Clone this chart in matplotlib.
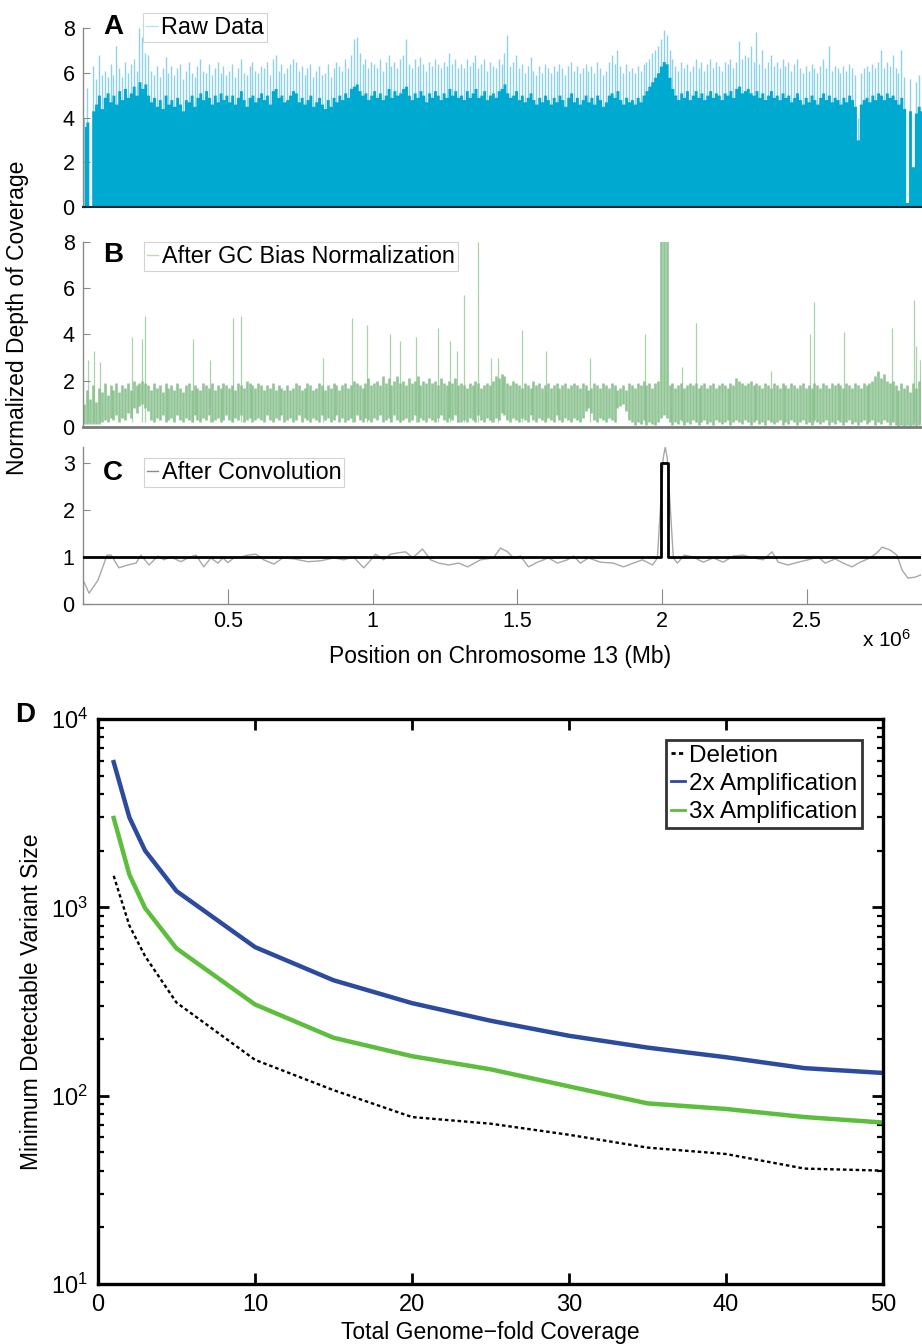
import math

import matplotlib
matplotlib.use("Agg")
import matplotlib.pyplot as plt
from matplotlib import font_manager
from matplotlib.lines import Line2D
from matplotlib.ticker import FixedLocator, FuncFormatter, LogLocator, NullFormatter

_names = {f.name for f in font_manager.fontManager.ttflist}
NARROW = "Liberation Sans Narrow" if "Liberation Sans Narrow" in _names else "Liberation Sans"
SANS = "Liberation Sans"
plt.rcParams["font.family"] = [NARROW, "DejaVu Sans"]
plt.rcParams["mathtext.default"] = "regular"

# ---------------- data: chromosome 13 coverage (10 kb bins) ----------------
BIN = 10000
CHR_LEN = 2.893e6

raw_depth = [
    3.6, 3.8, 0.0, 4.3, 4.6, 5.0, 4.4, 4.9, 5.1, 4.7,
    5.0, 4.6, 5.2, 4.8, 5.3, 4.9, 5.1, 5.4, 5.0, 5.6,
    5.3, 5.5, 5.0, 4.7, 4.9, 4.5, 4.8, 4.4, 5.0, 4.6,
    4.8, 4.5, 4.9, 4.6, 4.3, 4.8, 4.7, 5.0, 4.5, 4.9,
    5.1, 4.8, 5.2, 4.9, 4.6, 5.0, 4.7, 5.1, 4.8, 5.0,
    4.7, 5.0, 4.6, 4.9, 5.2, 4.8, 4.5, 4.9, 5.0, 4.7,
    4.9, 5.1, 4.8, 5.0, 4.6, 5.2, 5.3, 4.9, 5.0, 4.7,
    4.8, 5.0, 5.2, 5.1, 4.7, 4.9, 4.6, 4.8, 5.0, 4.5,
    4.7, 4.9, 4.6, 4.4, 4.8, 4.5, 4.9, 4.7, 5.0, 4.8,
    5.1, 4.9, 5.3, 5.4, 5.5, 5.2, 5.0, 5.1, 4.8, 5.0,
    5.2, 4.9, 5.1, 4.8, 5.0, 5.3, 4.9, 5.2, 5.0, 5.1,
    5.3, 5.4, 5.0, 4.8, 5.1, 4.9, 5.2, 5.0, 4.7, 5.1,
    4.9, 5.2, 5.0, 4.8, 5.1, 4.9, 5.3, 5.0, 5.2, 4.9,
    5.0, 4.8, 5.2, 4.9, 5.1, 5.3, 4.9, 5.0, 5.2, 4.8,
    5.0, 5.1, 4.9, 5.2, 5.3, 5.5, 5.1, 4.9, 5.0, 5.2,
    4.8, 5.0, 4.7, 4.9, 5.1, 4.8, 4.6, 4.9, 4.7, 5.0,
    4.8, 4.6, 4.9, 4.7, 5.0, 4.8, 4.5, 4.9, 5.1, 4.7,
    4.9, 4.6, 4.8, 5.0, 4.7, 4.9, 4.6, 5.0, 4.8, 4.5,
    4.7, 5.0, 5.1, 4.9, 5.2, 4.8, 4.6, 4.9, 4.7, 4.8,
    4.6, 4.9, 4.7, 5.0, 5.2, 5.4, 5.6, 5.8, 6.0, 6.3,
    6.5, 6.4, 5.8, 5.3, 5.0, 4.8, 5.1, 4.9, 5.2, 4.8,
    5.0, 5.2, 4.9, 5.1, 4.8, 5.0, 5.2, 4.9, 5.1, 5.0,
    4.8, 5.1, 5.0, 5.2, 4.9, 5.3, 5.4, 5.1, 5.2, 5.3,
    5.1, 5.0, 5.2, 4.9, 5.1, 4.8, 5.0, 5.2, 4.9, 5.0,
    4.8, 5.1, 4.9, 5.0, 4.7, 4.9, 5.1, 4.8, 4.6, 4.9,
    4.7, 5.0, 4.8, 4.6, 4.9, 5.1, 4.8, 5.0, 4.7, 4.9,
    4.8, 4.6, 4.9, 4.7, 5.0, 4.8, 4.5, 3.0, 4.6, 4.8,
    4.9, 4.7, 5.0, 4.8, 5.1, 5.0, 4.8, 5.1, 4.9, 5.0,
    4.8, 4.6, 4.9, 4.4, 0.2, 4.3, 1.8, 4.2, 4.5, 4.3,
]

raw_peak = [
    4.0, 5.3, 0.0, 6.3, 5.7, 6.8, 5.9, 6.1, 5.8, 6.4,
    5.9, 7.2, 6.2, 5.8, 6.5, 6.0, 6.4, 6.6, 6.1, 8.0,
    7.6, 6.9, 6.8, 6.1, 5.9, 6.3, 5.8, 6.2, 6.7, 6.0,
    6.3, 5.9, 6.2, 6.4, 5.7, 6.1, 6.5, 6.0, 5.8, 6.3,
    6.6, 6.1, 6.0, 6.4, 5.9, 6.2, 6.5, 6.0, 6.3, 5.9,
    6.1, 6.4, 5.8, 6.2, 6.6, 6.0, 5.9, 6.3, 6.5, 6.1,
    6.0, 6.3, 6.2, 6.5, 5.9, 6.6, 6.8, 6.1, 6.4, 6.0,
    6.2, 6.4, 6.6, 6.5, 6.1, 6.3, 5.9, 6.2, 6.4, 5.8,
    6.1, 6.3, 5.9, 6.0, 6.4, 5.8, 6.2, 6.5, 6.3, 6.1,
    6.6, 6.2, 6.8, 7.5, 7.6, 6.9, 6.4, 6.6, 6.2, 6.5,
    6.4, 6.2, 6.6, 6.1, 6.5, 6.8, 6.3, 6.5, 6.2, 6.6,
    6.8, 7.5, 6.4, 6.2, 6.6, 6.3, 6.7, 6.4, 6.1, 6.5,
    6.3, 6.6, 6.4, 6.2, 6.5, 6.3, 6.9, 6.4, 6.6, 6.2,
    6.4, 6.2, 6.6, 6.3, 6.5, 6.8, 6.2, 6.4, 6.6, 6.1,
    6.5, 6.3, 6.2, 6.6, 6.4, 6.9, 7.7, 6.3, 6.5, 6.8,
    6.2, 6.4, 6.0, 6.3, 6.7, 6.1, 5.9, 6.3, 6.0, 6.4,
    6.2, 6.0, 6.3, 6.1, 6.4, 6.2, 5.9, 6.3, 6.5, 6.1,
    6.3, 6.0, 6.2, 6.4, 6.1, 6.3, 6.0, 6.5, 6.2, 5.9,
    6.1, 6.5, 6.8, 6.4, 7.0, 6.3, 6.0, 6.4, 6.1, 6.2,
    6.0, 6.3, 6.1, 6.4, 6.5, 6.6, 6.9, 7.0, 7.2, 7.5,
    7.9, 7.7, 7.0, 6.6, 6.3, 6.1, 6.5, 6.2, 6.4, 6.1,
    6.3, 6.6, 6.2, 6.5, 6.1, 6.4, 6.6, 6.2, 6.5, 6.3,
    6.1, 6.5, 6.4, 6.6, 6.2, 6.5, 7.4, 6.6, 6.8, 6.7,
    7.2, 6.5, 7.8, 6.4, 7.0, 6.2, 6.5, 6.8, 6.3, 6.5,
    6.2, 6.6, 6.3, 6.5, 6.1, 6.4, 6.6, 6.2, 6.0, 6.3,
    6.1, 6.4, 6.2, 6.0, 6.3, 6.6, 6.2, 7.2, 6.1, 6.3,
    6.2, 6.0, 6.3, 6.1, 6.4, 6.2, 5.9, 4.0, 6.0, 6.2,
    6.3, 6.1, 6.4, 6.2, 6.5, 7.0, 6.2, 6.5, 6.3, 6.8,
    6.2, 6.0, 7.0, 5.8, 0.2, 5.7, 1.8, 5.6, 5.9, 5.7,
]

gc_low = [
    0.15, 0.15, 0.15, 0.15, 0.15, 0.15, 0.2, 0.3, 0.2, 0.4,
    0.3, 0.5, 0.2, 0.4, 0.3, 0.6, 0.4, 0.8, 0.6, 0.9,
    1.0, 0.8, 0.7, 0.3, 0.2, 0.4, 0.3, 0.5, 0.2, 0.3,
    0.4, 0.2, 0.5, 0.3, 0.2, 0.4, 0.3, 0.2, 0.5, 0.3,
    0.2, 0.4, 0.3, 0.5, 0.2, 0.3, 0.4, 0.2, 0.3, 0.5,
    0.3, 0.2, 0.4, 0.3, 0.5, 0.2, 0.3, 0.4, 0.2, 0.3,
    0.4, 0.3, 0.2, 0.5, 0.3, 0.2, 0.4, 0.3, 0.5, 0.2,
    0.3, 0.4, 0.2, 0.3, 0.5, 0.2, 0.4, 0.3, 0.2, 0.4,
    0.3, 0.2, 0.5, 0.3, 0.4, 0.2, 0.3, 0.5, 0.2, 0.4,
    0.2, 0.3, 0.4, 0.2, 0.5, 0.3, 0.2, 0.4, 0.3, 0.2,
    0.4, 0.3, 0.5, 0.2, 0.3, 0.4, 0.2, 0.5, 0.3, 0.2,
    0.3, 0.4, 0.2, 0.3, 0.5, 0.2, 0.4, 0.3, 0.2, 0.4,
    0.3, 0.2, 0.4, 0.5, 0.3, 0.2, 0.4, 0.3, 0.5, 0.2,
    0.2, 0.3, 0.2, 0.4, 0.3, 0.2, 0.5, 0.3, 0.2, 0.4,
    0.3, 0.2, 0.4, 0.3, 0.6, 0.5, 0.3, 0.2, 0.4, 0.3,
    0.2, 0.4, 0.3, 0.2, 0.5, 0.3, 0.2, 0.4, 0.3, 0.2,
    0.4, 0.3, 0.2, 0.5, 0.3, 0.2, 0.4, 0.3, 0.2, 0.4,
    0.3, 0.2, 0.4, 0.7, 0.8, 0.6, 0.3, 0.2, 0.4, 0.3,
    0.2, 0.4, 0.3, 0.2, 0.8, 0.9, 1.0, 0.7, 0.3, 0.2,
    0.1, 0.2, 0.15, 0.3, 0.1, 0.2, 0.15, 0.1, 0.2, 0.4,
    0.5, 0.4, 0.2, 0.1, 0.2, 0.15, 0.3, 0.1, 0.2, 0.15,
    0.3, 0.2, 0.1, 0.2, 0.3, 0.15, 0.2, 0.1, 0.3, 0.2,
    0.15, 0.2, 0.3, 0.1, 0.2, 0.3, 0.2, 0.15, 0.3, 0.2,
    0.1, 0.2, 0.3, 0.15, 0.2, 0.1, 0.3, 0.2, 0.15, 0.2,
    0.3, 0.1, 0.2, 0.15, 0.3, 0.2, 0.1, 0.2, 0.3, 0.15,
    0.2, 0.1, 0.3, 0.2, 0.15, 0.2, 0.3, 0.1, 0.2, 0.15,
    0.3, 0.2, 0.1, 0.2, 0.3, 0.15, 0.2, 0.1, 0.2, 0.3,
    0.15, 0.2, 0.3, 0.1, 0.2, 0.15, 0.3, 0.2, 0.1, 0.2,
    0.1, 0.05, 0.1, 0.05, 0.1, 0.05, 0.1, 0.05, 0.1, 0.05,
]

gc_high = [
    1.0, 1.6, 1.2, 1.8, 1.1, 1.7, 1.5, 1.9, 1.4, 1.8,
    1.6, 1.9, 1.5, 1.8, 1.7, 1.9, 1.6, 2.0, 1.8, 1.9,
    2.0, 1.9, 1.8, 1.6, 1.9, 1.7, 1.8, 1.5, 1.9, 1.7,
    1.8, 1.6, 1.9, 1.7, 1.5, 1.8, 1.9, 1.6, 1.8, 1.7,
    1.6, 1.9, 1.8, 1.7, 1.9, 1.6, 1.8, 1.7, 1.9, 1.8,
    1.7, 1.8, 1.6, 1.9, 1.8, 1.7, 2.0, 1.9, 1.8, 1.7,
    1.9, 1.8, 1.6, 1.8, 1.7, 1.9, 1.6, 1.8, 1.7, 1.6,
    1.8, 1.6, 1.7, 1.9, 1.8, 1.6, 1.7, 1.9, 1.8, 1.6,
    1.7, 1.9, 1.8, 1.6, 1.8, 1.7, 1.9, 1.8, 1.6, 1.8,
    1.9, 1.7, 1.8, 2.0, 1.9, 1.8, 1.7, 1.9, 2.1, 1.8,
    1.9, 2.0, 1.8, 2.2, 1.9, 2.1, 1.8, 2.0, 2.2, 1.9,
    2.0, 1.8, 2.1, 1.9, 2.0, 2.2, 1.8, 2.0, 1.9, 2.1,
    1.9, 2.0, 1.8, 2.1, 1.9, 1.8, 2.0, 1.9, 2.1, 1.8,
    1.9, 1.8, 1.7, 1.9, 1.8, 2.0, 1.9, 1.7, 1.8, 1.9,
    1.8, 2.0, 2.2, 2.1, 2.3, 2.2, 1.9, 1.8, 2.0, 1.9,
    1.8, 1.7, 1.9, 1.8, 1.7, 2.0, 1.8, 1.9, 1.7, 1.8,
    1.9, 1.7, 1.8, 1.9, 1.7, 1.8, 1.9, 1.7, 1.8, 1.9,
    1.8, 1.7, 1.9, 1.8, 1.6, 1.7, 1.9, 1.8, 1.7, 1.9,
    1.8, 1.7, 1.9, 1.8, 1.6, 1.7, 1.8, 1.6, 1.9, 1.8,
    1.7, 1.9, 1.8, 2.0, 1.8, 1.9, 1.7, 1.9, 2.0, 9.0,
    9.0, 9.0, 1.8, 1.9, 1.7, 1.8, 1.9, 1.7, 1.8, 1.9,
    1.8, 1.9, 1.7, 1.8, 1.9, 1.7, 1.8, 1.9, 1.7, 1.8,
    1.9, 1.8, 1.7, 1.9, 1.8, 2.1, 2.0, 1.9, 1.8, 1.9,
    2.0, 1.8, 1.9, 1.8, 1.7, 1.9, 1.8, 1.7, 1.9, 1.8,
    1.7, 1.9, 1.8, 1.7, 1.9, 1.8, 1.7, 1.8, 1.9, 1.7,
    1.8, 1.7, 1.9, 1.8, 1.7, 1.9, 1.8, 1.7, 1.9, 1.8,
    1.9, 1.8, 1.7, 1.9, 1.8, 1.7, 1.9, 1.8, 1.7, 1.9,
    1.8, 1.9, 2.0, 2.2, 2.4, 2.1, 2.3, 2.0, 1.9, 2.0,
    1.8, 1.6, 1.9, 1.7, 1.8, 1.5, 1.9, 1.7, 2.0, 1.8,
]

# isolated spikes after GC normalisation (position in Mb, depth)
gc_spike_pos = [0.017, 0.038, 0.059, 0.169, 0.203, 0.214, 0.379, 0.438, 0.517, 0.545,
                0.828, 0.928, 0.979, 1.059, 1.093, 1.148, 1.224, 1.266, 1.290, 1.317,
                1.362, 1.407, 1.431, 1.517, 1.597, 1.752, 1.941, 2.069, 2.117, 2.376,
                2.510, 2.524, 2.628, 2.793, 2.869, 2.876, 2.890]
gc_spike_val = [2.9, 3.3, 2.8, 3.9, 3.8, 4.8, 3.8, 2.9, 4.7, 4.8,
                3.0, 4.7, 4.4, 4.0, 3.7, 3.9, 4.3, 3.7, 3.3, 5.7,
                8.0, 3.0, 3.0, 4.2, 3.3, 3.0, 4.0, 2.6, 4.5, 2.4,
                4.0, 5.4, 4.1, 4.3, 5.5, 3.5, 2.9]

# convolved signal (position in Mb, depth)
conv_pos = [0.003, 0.021, 0.052, 0.062, 0.083, 0.097, 0.124, 0.155, 0.183, 0.200,
            0.228, 0.259, 0.279, 0.303, 0.338, 0.362, 0.390, 0.417, 0.441, 0.466,
            0.483, 0.500, 0.521, 0.545, 0.569, 0.597, 0.624, 0.659, 0.690, 0.728,
            0.776, 0.821, 0.866, 0.900, 0.934, 0.969, 1.000, 1.010, 1.038, 1.062,
            1.090, 1.114, 1.138, 1.172, 1.200, 1.228, 1.262, 1.297, 1.328, 1.372,
            1.417, 1.441, 1.466, 1.486, 1.510, 1.538, 1.569, 1.607, 1.638, 1.672,
            1.693, 1.717, 1.745, 1.786, 1.831, 1.866, 1.900, 1.931, 1.966, 1.983,
            1.993, 2.003, 2.010, 2.017, 2.028, 2.038, 2.052, 2.076, 2.107, 2.141,
            2.176, 2.210, 2.245, 2.279, 2.314, 2.348, 2.379, 2.400, 2.434, 2.469,
            2.503, 2.538, 2.562, 2.597, 2.624, 2.655, 2.683, 2.717, 2.741, 2.759,
            2.786, 2.810, 2.828, 2.848, 2.872, 2.893]
conv_val = [0.47, 0.23, 0.51, 0.68, 1.04, 1.04, 0.77, 0.83, 0.87, 1.04,
            0.83, 1.02, 0.94, 1.00, 0.90, 0.98, 1.04, 0.79, 0.98, 0.87,
            0.98, 0.88, 0.98, 1.00, 1.04, 1.06, 0.94, 0.85, 0.98, 0.96,
            0.90, 0.92, 0.98, 0.94, 1.00, 0.77, 0.98, 1.06, 0.94, 1.06,
            1.09, 1.11, 0.98, 1.17, 0.94, 0.87, 0.83, 0.87, 0.79, 0.94,
            0.98, 1.19, 1.11, 0.98, 1.02, 0.79, 0.89, 0.98, 0.87, 0.94,
            1.02, 0.87, 0.98, 0.89, 0.87, 0.79, 0.87, 0.94, 0.83, 0.98,
            2.00, 3.10, 3.34, 3.10, 2.00, 0.98, 0.87, 1.04, 1.00, 0.89,
            0.98, 0.89, 1.02, 1.04, 0.98, 0.94, 1.11, 0.89, 0.83, 0.89,
            0.94, 1.00, 0.87, 0.96, 0.87, 0.79, 0.89, 0.98, 1.09, 1.21,
            1.15, 1.04, 0.72, 0.55, 0.57, 0.62]

# simulated copy-number state
cnv_pos = [0.0, 1.997, 1.997, 2.021, 2.021, 2.893]
cnv_val = [1, 1, 3, 3, 1, 1]

# ---------------- data: detection limits ----------------
coverage = [1, 2, 3, 5, 10, 15, 20, 25, 30, 35, 40, 45, 50]
deletion = [1470, 800, 550, 312, 155, 107, 77, 71, 62, 53, 49, 41, 40]
amp_2x = [5900, 3000, 2000, 1220, 615, 410, 310, 250, 208, 180, 160, 140, 132]
amp_3x = [2980, 1490, 990, 605, 305, 203, 162, 138, 112, 91, 85, 77, 72]

W, H = 922, 1344


def fx(px):
    return px / W


def fy(py):
    return 1 - py / H


def style_track(ax, ymax, yticks, bottom_color):
    for side in ("top", "right"):
        ax.spines[side].set_visible(False)
    ax.spines["left"].set_color("#8a8a8a")
    ax.spines["left"].set_linewidth(1.0)
    ax.spines["bottom"].set_color(bottom_color)
    ax.spines["bottom"].set_linewidth(1.5)
    ax.set_xlim(0, CHR_LEN)
    ax.set_ylim(0, ymax)
    ax.yaxis.set_major_locator(FixedLocator(yticks))
    ax.tick_params(axis="y", direction="in", length=5, width=0.8, color="#8a8a8a",
                   labelsize=15.5, pad=6)


def track_legend(ax, handle_color, label, x_px, y_px):
    h = Line2D([], [], color=handle_color, lw=1.0)
    leg = ax.legend([h], [label], loc="upper left", bbox_to_anchor=(fx(x_px), fy(y_px)),
                    bbox_transform=fig.transFigure, borderaxespad=0, frameon=True,
                    fancybox=False, handlelength=0.5, handletextpad=0.15,
                    borderpad=0.12, prop={"family": SANS, "size": 16.8})
    leg.get_frame().set_edgecolor("#c8c8c8")
    leg.get_frame().set_linewidth(0.8)


fig = plt.figure(figsize=(W / 100, H / 100), dpi=100)

ax_a = fig.add_axes([fx(83), fy(207), fx(838), 179 / H])
ax_b = fig.add_axes([fx(83), fy(427), fx(838), 185 / H])
ax_c = fig.add_axes([fx(83), fy(604), fx(838), 157 / H])
ax_d = fig.add_axes([fx(98), fy(1284), fx(785), 565 / H])

# ---- A: raw data ----
bin_mid = [(i + 0.5) * BIN for i in range(len(raw_depth))]
ax_a.vlines(bin_mid, 0, raw_peak, color="#8dd2e8", lw=1.0, zorder=1)
ax_a.fill_between(bin_mid, 0, raw_depth, step="mid", color="#00a9cf", linewidth=0, zorder=2)
style_track(ax_a, 8, [0, 2, 4, 6, 8], "#1b2a30")
ax_a.set_xticks([])
track_legend(ax_a, "#b5e2f0", "Raw Data", 143, 13)

# ---- B: after GC bias normalisation ----
ax_b.vlines([p * 1e6 for p in gc_spike_pos], 0.2, gc_spike_val, color="#a9d3ab", lw=0.9, zorder=1)
ax_b.vlines(bin_mid, gc_low, gc_high, color="#86bf8a", lw=1.9, alpha=0.9, zorder=2)
style_track(ax_b, 8, [0, 2, 4, 6, 8], "#7a7a7a")
ax_b.spines["bottom"].set_linewidth(2.0)
ax_b.set_xticks([])
track_legend(ax_b, "#b9dcbb", "After GC Bias Normalization", 144, 242)

# ---- C: after convolution ----
ax_c.plot([p * 1e6 for p in conv_pos], conv_val, color="#a8a8a8", lw=1.0, zorder=2)
ax_c.plot([p * 1e6 for p in cnv_pos], cnv_val, color="black", lw=2.0, zorder=3)
style_track(ax_c, 3.34, [0, 1, 2, 3], "#8a8a8a")
ax_c.spines["bottom"].set_linewidth(1.0)
ax_c.xaxis.set_major_locator(FixedLocator([0.5e6, 1e6, 1.5e6, 2e6, 2.5e6]))
ax_c.xaxis.set_major_formatter(FuncFormatter(lambda v, p: f"{v / 1e6:g}"))
ax_c.tick_params(axis="x", direction="in", length=11, width=0.8, color="#8a8a8a",
                 labelsize=15.5, pad=5)
track_legend(ax_c, "#8a8a8a", "After Convolution", 144, 458)

for lab, py in (("A", 27), ("B", 255), ("C", 473)):
    fig.text(fx(113), fy(py), lab, family=SANS, weight="bold", size=20,
             ha="center", va="center")

fig.text(fx(18), fy(318), "Normalized Depth of Coverage", family=SANS, size=16.5,
         rotation=90, ha="center", va="center")
fig.text(fx(500), fy(656), "Position on Chromosome 13 (Mb)", family=SANS, size=16.5,
         ha="center", va="center")
fig.text(fx(887), fy(640), r"x 10$^{6}$", size=15, ha="center", va="center")

# ---- D: detection limits ----
ax_d.plot(coverage, deletion, color="black", lw=1.7, ls=(0, (1.5, 1.2)), label="Deletion")
ax_d.plot(coverage, amp_2x, color="#2c4b9e", lw=3.2, label="2x Amplification")
ax_d.plot(coverage, amp_3x, color="#5cbe3c", lw=3.2, label="3x Amplification")
ax_d.set_yscale("log")
ax_d.set_xlim(0, 50)
ax_d.set_ylim(10, 1e4)
ax_d.xaxis.set_major_locator(FixedLocator([0, 10, 20, 30, 40, 50]))
ax_d.yaxis.set_major_locator(LogLocator(base=10, numticks=10))
ax_d.yaxis.set_minor_locator(LogLocator(base=10, subs=range(2, 10), numticks=10))
ax_d.yaxis.set_minor_formatter(NullFormatter())
ax_d.yaxis.set_major_formatter(FuncFormatter(lambda v, p: rf"10$^{{{int(round(math.log10(v)))}}}$"))
for s in ax_d.spines.values():
    s.set_linewidth(2.4)
ax_d.tick_params(which="major", direction="in", length=8, width=2.0, labelsize=17,
                 top=True, right=True, pad=7)
ax_d.tick_params(which="minor", direction="in", length=4, width=1.6, top=True, right=True)
ax_d.set_xlabel("Total Genome\u2212fold Coverage", family=SANS, size=16.5, labelpad=4)
ax_d.set_ylabel("Minimum Detectable Variant Size", family=SANS, size=16.5, labelpad=6)
leg = ax_d.legend(loc="upper right", bbox_to_anchor=(fx(862), fy(740)),
                  bbox_transform=fig.transFigure, borderaxespad=0, fancybox=False,
                  handlelength=0.6, handletextpad=0.15, borderpad=0.2,
                  labelspacing=0.25, prop={"family": SANS, "size": 17.5})
leg.get_frame().set_edgecolor("black")
leg.get_frame().set_linewidth(2.0)
for line in leg.get_lines():
    line.set_linewidth(2.0)
fig.text(fx(25), fy(715), "D", family=SANS, weight="bold", size=20, ha="center", va="center")

fig.savefig("out.png", dpi=100)
